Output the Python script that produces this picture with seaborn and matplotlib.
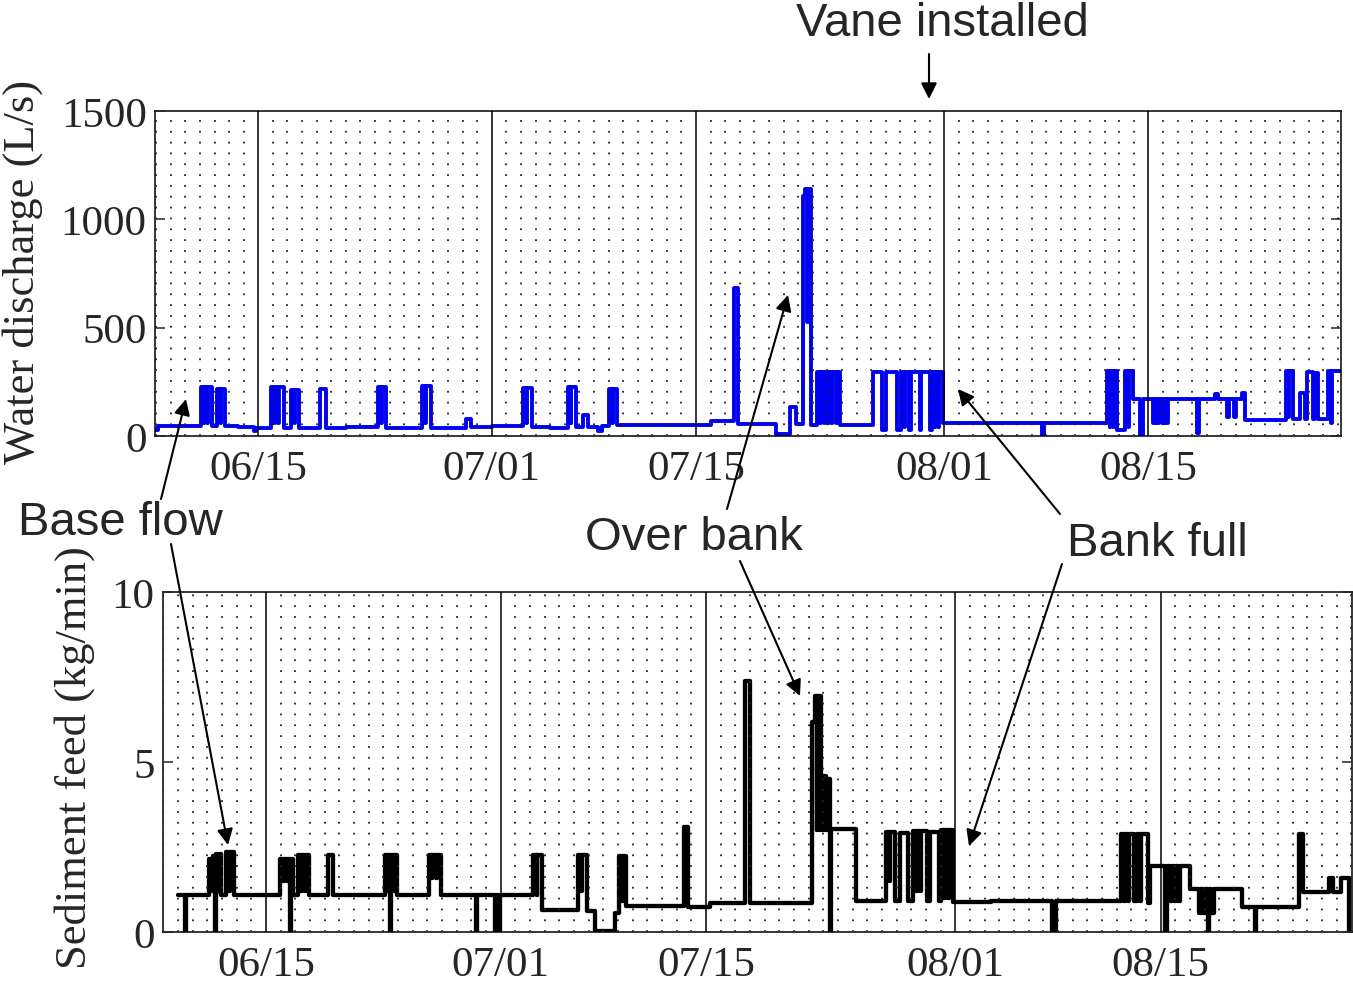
import numpy as np
import matplotlib
matplotlib.use("Agg")
import matplotlib.pyplot as plt
from matplotlib.patches import FancyArrowPatch
import seaborn as sns

# Time axis: days counted from 31 May (15 = 06/15, 31 = 07/01, 45 = 07/15, 62 = 08/01, 76 = 08/15)
tick_days = [15, 31, 45, 62, 76]
tick_labels = ["06/15", "07/01", "07/15", "08/01", "08/15"]

# Water discharge (L/s), step series: value holds from each time until the next
q_days = [7.92, 8.10, 11.05, 11.25, 11.30, 11.50, 11.55, 11.80, 12.20, 12.40, 12.45, 12.75, 13.60, 14.70, 14.85,
          15.90, 16.10, 16.15, 16.35, 16.40, 16.75, 17.25, 17.45, 17.50, 17.80, 19.20, 19.65, 21.00,
          23.20, 23.40, 23.45, 23.75, 26.20, 26.45, 26.50, 26.85, 29.25, 29.60, 31.00,
          33.15, 33.35, 33.40, 33.75, 35.00, 36.20, 36.40, 36.45, 36.80, 37.25, 37.60, 38.30, 38.55,
          39.05, 39.25, 39.30, 39.55, 46.00, 47.62, 47.85, 50.50, 51.45, 51.85,
          52.30, 52.50, 52.62, 52.68, 52.90, 53.30, 53.50, 53.55, 53.80, 53.85, 54.05, 54.10, 54.30, 54.35, 54.60, 54.65, 54.85,
          57.10, 57.75, 58.05, 58.75, 59.05, 59.25, 59.30, 59.60, 59.75, 60.35, 60.45, 61.05, 61.15, 61.35, 61.40, 61.60, 61.65, 61.90,
          64.50, 68.70, 68.85,
          73.15, 73.35, 73.40, 73.60, 73.65, 73.85, 74.40, 74.60, 74.65, 74.95, 75.45, 75.60,
          76.30, 76.45, 76.60, 76.75, 76.90, 77.05, 77.20, 77.35, 79.30, 79.50, 80.55, 80.80, 81.40, 81.55, 81.90, 82.00, 82.40, 82.60,
          85.40, 85.60, 85.65, 85.90, 86.40, 86.75, 86.86, 87.30, 87.40, 87.65, 88.30, 88.50, 88.55, 89.20]
q_vals = [30, 48, 225, 60, 225, 60, 225, 45, 215, 60, 215, 45, 40, 25, 38,
          225, 60, 225, 60, 225, 38, 212, 60, 212, 36, 215, 36, 40,
          226, 60, 226, 38, 230, 60, 230, 36, 80, 42, 48,
          221, 60, 221, 42, 38, 225, 60, 225, 42, 98, 40, 25, 45,
          218, 60, 218, 52, 70, 683, 55, 8, 134, 55,
          1110, 1140, 526, 1140, 50, 295, 60, 295, 60, 295, 60, 295, 60, 295, 60, 295, 52,
          295, 30, 295, 30, 295, 40, 295, 30, 295, 30, 295, 30, 295, 40, 295, 40, 295, 60,
          62, 2, 62,
          300, 40, 300, 40, 300, 30, 300, 40, 300, 170, 0, 170,
          60, 170, 60, 170, 60, 170, 60, 172, 15, 170, 195, 170, 90, 170, 90, 170, 200, 75,
          300, 90, 300, 78, 200, 80, 295, 80, 290, 80, 300, 60, 300, 300]

# Sediment feed (kg/min), step series
s_days = [9.00, 9.45, 9.55,
          11.15, 11.35, 11.40, 11.50, 11.58, 11.75, 11.80, 11.95,
          12.30, 12.50, 12.55, 12.85,
          15.95, 16.15, 16.20, 16.45, 16.50, 16.62, 16.70, 16.85,
          17.20, 17.40, 17.45, 17.65, 17.70, 17.95,
          19.20, 19.60,
          23.10, 23.30, 23.35, 23.45, 23.52, 23.70, 23.75, 23.90,
          26.10, 26.30, 26.35, 26.60, 26.65, 26.95,
          29.30, 29.42, 30.60, 30.75, 30.80, 30.95,
          33.20, 33.45, 33.50, 33.85,
          36.30, 36.50, 36.55, 36.90,
          37.40, 38.80, 39.10, 39.30, 39.35, 39.55,
          43.50, 43.80, 45.30,
          47.66, 48.00,
          52.20, 52.40, 52.55, 52.60, 52.75, 52.80, 52.85, 53.00, 53.05, 53.20, 53.25, 53.45, 53.55,
          55.20,
          57.30, 57.50, 57.55, 57.90, 58.20, 58.80, 59.10, 59.30, 59.35, 59.60, 59.65, 60.05, 60.25, 60.85, 61.05, 61.25, 61.30, 61.50, 61.55, 61.87,
          64.40, 68.60, 68.85,
          73.30, 73.50, 73.55, 73.80, 73.85, 74.15, 74.35, 74.60, 74.65, 75.15, 75.30,
          76.30, 76.45, 76.60, 76.75, 76.90, 77.05, 77.20, 77.30, 78.00,
          78.60, 78.75, 78.90, 79.05, 79.20, 79.30, 79.45, 79.60,
          81.55, 82.40, 82.50,
          85.40, 85.70, 87.50, 87.75, 88.30, 88.85, 89.04]
s_vals = [1.10, 0.00, 1.10,
          2.15, 1.20, 2.25, 0.00, 2.30, 1.20, 2.30, 1.10,
          2.35, 1.20, 2.35, 1.10,
          2.15, 1.50, 2.15, 1.50, 2.15, 0.00, 2.15, 1.10,
          2.26, 1.20, 2.26, 1.20, 2.26, 1.10,
          2.26, 1.10,
          2.26, 1.20, 2.26, 0.00, 2.26, 1.20, 2.26, 1.10,
          2.26, 1.60, 2.26, 1.60, 2.26, 1.10,
          0.00, 1.10, 0.00, 1.10, 0.00, 1.10,
          2.26, 1.10, 2.26, 0.65,
          2.26, 1.20, 2.26, 0.63,
          0.04, 0.55, 2.24, 0.90, 2.24, 0.77,
          3.09, 0.74, 0.84,
          7.39, 0.84,
          6.17, 6.95, 3.00, 6.95, 3.00, 6.95, 4.60, 3.00, 4.60, 3.00, 4.50, 0.00, 3.03,
          0.92,
          2.95, 1.50, 2.95, 0.92, 2.90, 0.92, 2.98, 1.20, 2.98, 1.20, 2.98, 0.92, 2.95, 0.92, 3.00, 1.00, 3.00, 1.00, 3.00, 0.87,
          0.90, 0.00, 0.90,
          2.88, 0.90, 2.88, 0.90, 2.88, 0.90, 2.88, 0.90, 2.88, 0.85, 1.95,
          0.00, 1.95, 0.90, 1.95, 0.90, 1.95, 0.90, 1.95, 1.26,
          0.56, 1.26, 0.56, 1.26, 0.00, 1.26, 0.56, 1.26,
          0.73, 0.00, 0.73,
          2.88, 1.17, 1.60, 1.17, 1.60, 0.00, 0.00]

assert len(q_days) == len(q_vals)
assert len(s_days) == len(s_vals)

sns.set_style("white")
plt.rcParams["font.family"] = ["Liberation Serif", "DejaVu Serif"]

W, H = 1353, 987
fig = plt.figure(figsize=(W / 100, H / 100), dpi=100)


def fx(px):
    return px / W


def fy(py):
    return 1 - py / H


ax1 = fig.add_axes([fx(155), fy(437), (1341 - 155) / W, 325 / H])
ax2 = fig.add_axes([fx(163), fy(933), (1352 - 163) / W, 340 / H])

sns.lineplot(x=q_days, y=q_vals, ax=ax1, estimator=None, sort=False,
             drawstyle="steps-post", color="#0000f0", linewidth=2.8)
sns.lineplot(x=s_days, y=s_vals, ax=ax2, estimator=None, sort=False,
             drawstyle="steps-post", color="black", linewidth=3.1)

ax1.set_xlim(7.92, 89.2)
ax1.set_ylim(0, 1500)
ax1.set_yticks([0, 500, 1000, 1500])
ax2.set_xlim(7.98, 89.04)
ax2.set_ylim(0, 10)
ax2.set_yticks([0, 5, 10])

for ax in (ax1, ax2):
    ax.set_xticks(tick_days)
    ax.set_xticklabels(tick_labels)
    ax.set_xticks(np.arange(8, 90), minor=True)
    ax.grid(False)
    ax.grid(which="major", axis="x", color="black", linewidth=1.1, linestyle="-")
    ax.grid(which="minor", axis="x", color="#222222", linewidth=1.3, linestyle=(0, (1, 5)))
    ax.set_axisbelow(False)
    ax.tick_params(axis="x", which="both", length=0, pad=10, labelsize=31)
    ax.tick_params(axis="y", direction="in", length=7, width=1.1, left=True, right=True,
                   labelsize=31, pad=6)
    for sp in ax.spines.values():
        sp.set_visible(True)
        sp.set_color("black")
        sp.set_linewidth(1.1)
    ax.set_xlabel("")
    ax.set_ylabel("")

fig.text(fx(23), fy(272), "Water discharge (L/s)", rotation=90, ha="center", va="center",
         fontsize=32)
fig.text(fx(75), fy(758), "Sediment feed (kg/min)", rotation=90, ha="center", va="center",
         fontsize=32)

sans = ["Liberation Sans", "DejaVu Sans"]
fig.text(fx(942), fy(24), "Vane installed", ha="center", va="center", fontsize=34, family=sans)
fig.text(fx(120), fy(523), "Base flow", ha="center", va="center", fontsize=34, family=sans)
fig.text(fx(694), fy(538), "Over bank", ha="center", va="center", fontsize=34, family=sans)
fig.text(fx(1157), fy(544), "Bank full", ha="center", va="center", fontsize=34, family=sans)

arrows = [((929, 55), (929, 100)),
          ((161, 500), (186, 400)),
          ((171, 545), (228, 846)),
          ((727, 510), (788, 296)),
          ((740, 562), (800, 697)),
          ((1060, 515), (958, 390)),
          ((1062, 565), (969, 847))]
for (x0, y0), (x1, y1) in arrows:
    fig.add_artist(FancyArrowPatch((fx(x0), fy(y0)), (fx(x1), fy(y1)), transform=fig.transFigure,
                                   arrowstyle="-|>", mutation_scale=24, linewidth=1.5,
                                   color="black", shrinkA=0, shrinkB=0))

fig.savefig("out.png", dpi=100)
